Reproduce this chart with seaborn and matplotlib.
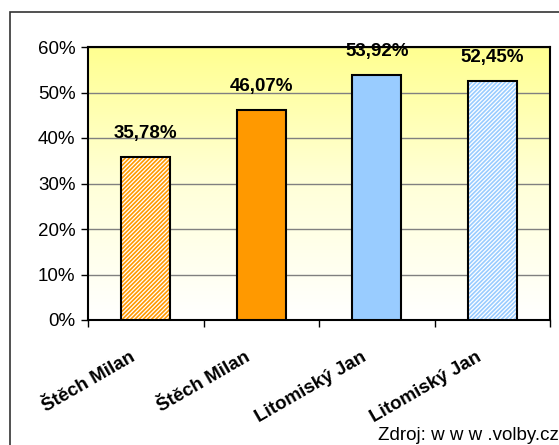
import matplotlib
matplotlib.use("Agg")
import matplotlib.pyplot as plt
import matplotlib.patches as mpatches
import matplotlib.transforms as mtrans
from matplotlib.colors import LinearSegmentedColormap
import numpy as np
import pandas as pd
import seaborn as sns

# ---- data ----
categories = ["Štěch Milan", "Štěch Milan", "Litomiský Jan", "Litomiský Jan"]
values = [35.78, 46.07, 53.92, 52.45]
value_labels = ["35,78%", "46,07%", "53,92%", "52,45%"]
y_ticks = [0, 10, 20, 30, 40, 50, 60]
y_tick_labels = ["0%", "10%", "20%", "30%", "40%", "50%", "60%"]
source_text = "Zdroj: w w w .volby.cz"

bar_colors = ["#FF9900", "#FF9900", "#99CCFF", "#99CCFF"]
hatched = [True, False, False, True]

sns.set_style("white")
plt.rcParams["font.family"] = ["Liberation Sans", "DejaVu Sans"]
plt.rcParams["text.color"] = "black"
plt.rcParams["xtick.color"] = "black"
plt.rcParams["ytick.color"] = "black"
plt.rcParams["hatch.linewidth"] = 1.2

FS = 13.5

fig = plt.figure(figsize=(5.59, 4.45), dpi=100)
ax = fig.add_axes([88 / 559, 1 - 320 / 445, (550 - 88) / 559, (320 - 47) / 445])

slots = [str(i) for i in range(len(values))]
df = pd.DataFrame({"slot": slots, "value": values})
sns.barplot(data=df, x="slot", y="value", hue="slot", order=slots,
            palette=dict(zip(slots, bar_colors)), legend=False, saturation=1,
            width=0.42, ax=ax, zorder=3, edgecolor="black", linewidth=1.5)

# hatching for selected bars
for patch, col, h in zip(ax.patches[:len(values)], bar_colors, hatched):
    if h:
        patch.set_facecolor("white")
        patch.set_edgecolor(col)
        patch.set_hatch("////////")
        patch.set_linewidth(0)
        bb = patch.get_bbox()
        outline = mpatches.Rectangle((bb.x0, bb.y0), bb.width, bb.height,
                                     fill=False, edgecolor="black", lw=1.5, zorder=4)
        ax.add_patch(outline)

# gradient background
cmap = LinearSegmentedColormap.from_list("bg", ["#FFFFFF", "#FFFFD8", "#FFFF90"])
grad = np.linspace(0, 1, 256).reshape(-1, 1)
ax.imshow(grad, cmap=cmap, aspect="auto", extent=[0, 1, 0, 1],
          transform=ax.transAxes, origin="lower", zorder=0)

ax.set_xlim(-0.5, len(values) - 0.5)
ax.set_ylim(0, 60)
ax.set_yticks(y_ticks)
ax.set_yticklabels(y_tick_labels, fontsize=FS)
ax.yaxis.grid(True, color="#808080", lw=1)
for gl in ax.get_ygridlines():
    gl.set_zorder(1)

# x ticks: marks at boundaries, labels at centres
ax.set_xticks(np.arange(-0.5, len(values)), minor=False)
ax.set_xticklabels([])
ax.set_xticks(np.arange(len(values)), minor=True)
ax.set_xticklabels(categories, minor=True, fontsize=FS, fontweight="bold",
                   rotation=30, ha="right", va="center", rotation_mode="anchor")
ax.tick_params(axis="x", which="minor", length=0, pad=26)
ax.tick_params(axis="x", which="major", direction="out", length=5, bottom=True, width=1)
ax.tick_params(axis="y", direction="out", length=5, left=True, pad=4, width=1)
shift = mtrans.ScaledTranslation(-12 / 100, 0, fig.dpi_scale_trans)
for lab in ax.get_xticklabels(minor=True):
    lab.set_transform(lab.get_transform() + shift)

ax.set_xlabel("")
ax.set_ylabel("")
for s in ax.spines.values():
    s.set_visible(True)
    s.set_color("black")
    s.set_linewidth(1.5)

for i, (v, lab) in enumerate(zip(values, value_labels)):
    ax.annotate(lab, (i, v), xytext=(0, 17), textcoords="offset points",
                ha="center", va="center", fontsize=FS, fontweight="bold",
                zorder=5, annotation_clip=False)

fig.text(0.999, 1 - 435 / 445, source_text, ha="right", va="center", fontsize=FS)

border = mpatches.Rectangle((10 / 559, 1 - 12 / 445 - 2), 2, 2,
                            transform=fig.transFigure, fill=False,
                            edgecolor="#333333", lw=1.2)
fig.patches.append(border)

fig.savefig("out.png", dpi=100)
